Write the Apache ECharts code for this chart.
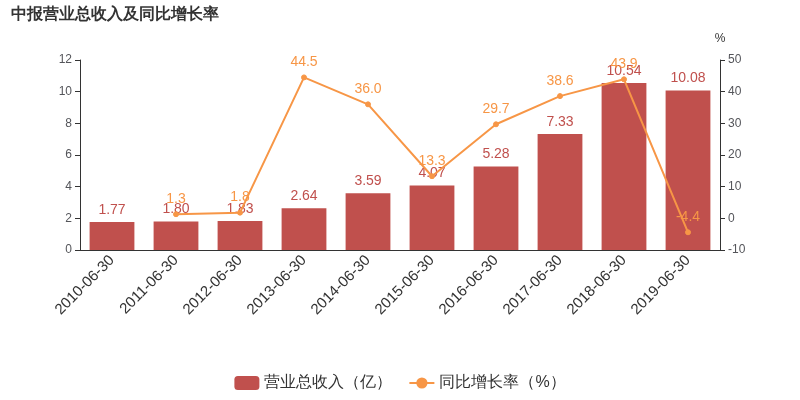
<!DOCTYPE html>
<html><head><meta charset="UTF-8">
<script src="https://cdn.jsdelivr.net/npm/echarts@6/dist/echarts.min.js"></script>
</head>
<body style="margin:0">
<div id="g1" style="width:800px;height:400px;"></div>
<script>
var categories = ['2010-06-30','2011-06-30','2012-06-30','2013-06-30','2014-06-30','2015-06-30','2016-06-30','2017-06-30','2018-06-30','2019-06-30'];
var revenue = [1.77, 1.80, 1.83, 2.64, 3.59, 4.07, 5.28, 7.33, 10.54, 10.08];
var growth = [null, 1.3, 1.8, 44.5, 36.0, 13.3, 29.7, 38.6, 43.9, -4.4];

var option = {
    title: {text: '中报营业总收入及同比增长率', left: 6, top: 2,
        textStyle: {fontSize: 16, fontWeight: 'bold', color: '#333'}},
    legend: {bottom: 4, itemGap: 16, textStyle: {fontSize: 16, color: '#333'},
        data: [{name: '营业总收入（亿）', icon: 'roundRect'}, '同比增长率（%）']},
    grid: {left: 80, right: 80, top: 60, bottom: 150},
    xAxis: {type: 'category', data: categories,
        axisLabel: {rotate: 45, fontSize: 15, color: '#333', interval: 0},
        axisTick: {show: false}, axisLine: {lineStyle: {color: '#333'}}},
    yAxis: [
        {type: 'value', min: 0, max: 12, interval: 2, splitLine: {show: false},
         axisLine: {show: true, lineStyle: {color: '#333'}}, axisTick: {show: true}},
        {type: 'value', min: -10, max: 50, interval: 10, splitLine: {show: false},
         name: '%', nameTextStyle: {color: '#333', fontSize: 12},
         axisLine: {show: true, lineStyle: {color: '#333'}}, axisTick: {show: true}}
    ],
    series: [
        {name: '营业总收入（亿）', type: 'bar', data: revenue, barWidth: '70%',
         itemStyle: {color: '#c0504d'},
         label: {show: true, position: 'top', color: '#c0504d', fontSize: 14, formatter: function(p){return p.value.toFixed(2);}}},
        {name: '同比增长率（%）', type: 'line', yAxisIndex: 1, data: growth,
         symbol: 'circle', symbolSize: 5, connectNulls: false,
         itemStyle: {color: '#f79646', borderColor: '#f79646'},
         lineStyle: {color: '#f79646', width: 2},
         label: {show: true, position: 'top', color: '#f79646', fontSize: 14, formatter: function(p){return p.value.toFixed(1);}}}
    ]
};
var myChart = echarts.init(document.getElementById('g1'));
myChart.setOption(option);
</script>
</body></html>
